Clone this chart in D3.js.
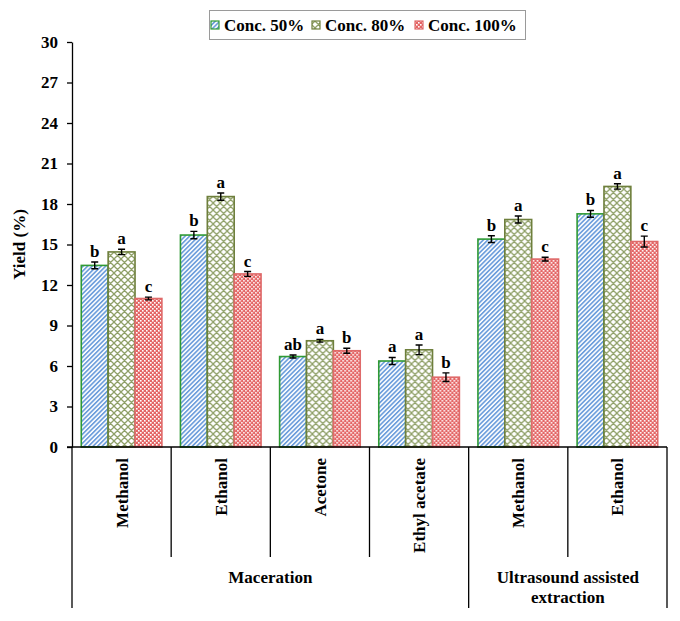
<!DOCTYPE html>
<html>
<head>
<meta charset="utf-8">
<script src="https://cdn.jsdelivr.net/npm/d3@7"></script>
<style>
  html, body { margin: 0; padding: 0; background: #fff; }
  svg text { font-family: "Liberation Serif", "Times New Roman", Times, "DejaVu Serif", "Noto Serif", serif !important; font-weight: bold; fill: #000; }
</style>
</head>
<body>
<svg id="chart" width="680" height="621"></svg>
<script>
// ---- data ----
const categories = ["Methanol", "Ethanol", "Acetone", "Ethyl acetate", "Methanol", "Ethanol"];
const methods = ["Maceration", "Ultrasound assisted extraction"];
const methodSpans = [4, 2];
const seriesNames = ["Conc. 50%", "Conc. 80%", "Conc. 100%"];
const conc50 = [13.45, 15.7, 6.7, 6.37, 15.4, 17.27];
const conc80 = [14.45, 18.55, 7.87, 7.2, 16.85, 19.3];
const conc100 = [11.0, 12.82, 7.13, 5.17, 13.92, 15.22];
const err50 = [0.25, 0.27, 0.11, 0.26, 0.25, 0.25];
const err80 = [0.2, 0.27, 0.1, 0.36, 0.26, 0.2];
const err100 = [0.1, 0.18, 0.18, 0.32, 0.14, 0.4];
const letters50 = ["b", "b", "ab", "a", "b", "b"];
const letters80 = ["a", "a", "a", "a", "a", "a"];
const letters100 = ["c", "c", "b", "b", "c", "c"];
const yTicks = [0, 3, 6, 9, 12, 15, 18, 21, 24, 27, 30];
const yTitle = "Yield (%)";

const series = [
  { name: seriesNames[0], values: conc50, errs: err50, letters: letters50, pat: "p50", stroke: "#2f9a34" },
  { name: seriesNames[1], values: conc80, errs: err80, letters: letters80, pat: "p80", stroke: "#6e7f3c" },
  { name: seriesNames[2], values: conc100, errs: err100, letters: letters100, pat: "p100", stroke: "#df6a6a" }
];

const FONT = "'Liberation Serif', 'Times New Roman', Times, 'DejaVu Serif', serif";
const svg = d3.select("#chart");
const plotLeft = 72, plotRight = 667, plotTop = 42, plotBase = 447;

// ---- patterns ----
const defs = svg.append("defs");
const p50 = defs.append("pattern").attr("id", "p50").attr("patternUnits", "userSpaceOnUse")
  .attr("width", 3.2).attr("height", 3.2).attr("patternTransform", "rotate(45)");
p50.append("rect").attr("width", 3.2).attr("height", 3.2).attr("fill", "#ffffff");
p50.append("rect").attr("width", 1.7).attr("height", 3.2).attr("fill", "#6f9fdc");

const p80 = defs.append("pattern").attr("id", "p80").attr("patternUnits", "userSpaceOnUse")
  .attr("width", 7).attr("height", 7);
p80.append("rect").attr("width", 7).attr("height", 7).attr("fill", "#ffffff");
p80.append("path").attr("d", "M0,7 L7,0 M-1,1 L1,-1 M6,8 L8,6 M0,0 L7,7 M-1,6 L1,8 M6,-1 L8,1")
  .attr("stroke", "#8fa068").attr("stroke-width", 1.3).attr("fill", "none");

const p100 = defs.append("pattern").attr("id", "p100").attr("patternUnits", "userSpaceOnUse")
  .attr("width", 4).attr("height", 4);
p100.append("rect").attr("width", 4).attr("height", 4).attr("fill", "#e46565");
p100.append("rect").attr("x", 0).attr("y", 0).attr("width", 1.6).attr("height", 1.6).attr("fill", "#ffffff");
p100.append("rect").attr("x", 2).attr("y", 2).attr("width", 1.6).attr("height", 1.6).attr("fill", "#ffffff");

// ---- scales ----
const x0 = d3.scaleBand().domain(d3.range(categories.length)).range([plotLeft, plotRight]).padding(0);
const x1 = d3.scaleBand().domain(d3.range(series.length)).range([0, x0.bandwidth()])
  .paddingInner(0).paddingOuter(0.345);
const y = d3.scaleLinear().domain([0, 30]).range([plotBase, plotTop]);

// ---- y axis ----
const yAxis = svg.append("g").attr("transform", `translate(${plotLeft},0)`)
  .call(d3.axisLeft(y).tickValues(yTicks).tickSize(5).tickSizeOuter(0).tickPadding(9).tickFormat(d3.format("d")));
yAxis.attr("font-family", FONT).attr("font-size", 17);
yAxis.select(".domain").attr("stroke", "#000").attr("stroke-width", 1.3);
yAxis.selectAll(".tick line").attr("stroke", "#000").attr("stroke-width", 1.3);
yAxis.selectAll(".tick text").attr("font-family", FONT).style("font-size", "17px")
  .style("font-weight", "bold").attr("fill", "#000");

svg.append("text").attr("transform", `translate(19,${(plotTop + plotBase) / 2}) rotate(-90)`)
  .attr("text-anchor", "middle").attr("dy", "0.35em").attr("font-family", FONT).style("font-size", "17px").text(yTitle);

// ---- bars ----
const groups = svg.append("g").selectAll("g").data(categories).join("g")
  .attr("transform", (d, i) => `translate(${x0(i)},0)`);

series.forEach((s, si) => {
  groups.append("rect")
    .attr("x", x1(si)).attr("width", x1.bandwidth())
    .attr("y", (d, i) => y(s.values[i])).attr("height", (d, i) => plotBase - y(s.values[i]))
    .attr("fill", `url(#${s.pat})`).attr("stroke", s.stroke).attr("stroke-width", 1.6);
  const cx = x1(si) + x1.bandwidth() / 2;
  groups.append("path")
    .attr("d", (d, i) => {
      const hi = y(s.values[i] + s.errs[i]), lo = y(s.values[i] - s.errs[i]);
      return `M${cx},${hi}L${cx},${lo}M${cx - 3.5},${hi}L${cx + 3.5},${hi}M${cx - 3.5},${lo}L${cx + 3.5},${lo}`;
    })
    .attr("stroke", "#000").attr("stroke-width", 1.4).attr("fill", "none");
  groups.append("text")
    .attr("x", cx).attr("y", (d, i) => y(s.values[i] + s.errs[i]) - 5)
    .attr("text-anchor", "middle").attr("font-family", FONT).style("font-size", "17px")
    .text((d, i) => s.letters[i]);
});

// ---- x axis line ----
svg.append("line").attr("x1", plotLeft - 5).attr("x2", plotRight).attr("y1", plotBase).attr("y2", plotBase)
  .attr("stroke", "#000").attr("stroke-width", 1.3);

// ---- category separators ----
const methodBounds = [0];
methodSpans.forEach(n => methodBounds.push(methodBounds[methodBounds.length - 1] + n));
for (let i = 0; i <= categories.length; i++) {
  const xp = i < categories.length ? x0(i) : plotRight;
  const isMethod = methodBounds.includes(i);
  svg.append("line").attr("x1", xp).attr("x2", xp).attr("y1", plotBase).attr("y2", isMethod ? 608 : 557)
    .attr("stroke", "#000").attr("stroke-width", 1.3);
}

// ---- inner category labels ----
categories.forEach((c, i) => {
  svg.append("text")
    .attr("transform", `translate(${x0(i) + x0.bandwidth() / 2},458) rotate(-90)`)
    .attr("text-anchor", "end").attr("dy", "0.35em").attr("font-family", FONT).style("font-size", "17px").text(c);
});

// ---- method labels ----
methods.forEach((m, k) => {
  const a = methodBounds[k], b = methodBounds[k + 1];
  const xa = x0(a), xb = b < categories.length ? x0(b) : plotRight;
  const cx = (xa + xb) / 2;
  const lines = m === "Ultrasound assisted extraction" ? ["Ultrasound assisted", "extraction"] : [m];
  lines.forEach((ln, li) => {
    svg.append("text").attr("x", cx).attr("y", 583 + li * 20).attr("text-anchor", "middle")
      .attr("font-family", FONT).style("font-size", "17px").text(ln);
  });
});

// ---- legend ----
const lg = svg.append("g");
lg.append("rect").attr("x", 209.5).attr("y", 10.5).attr("width", 316).attr("height", 29)
  .attr("fill", "#fff").attr("stroke", "#9a9a9a").attr("stroke-width", 1);
const legX = [211, 312, 415];
series.forEach((s, si) => {
  lg.append("rect").attr("x", legX[si]).attr("y", 21).attr("width", 8).attr("height", 8)
    .attr("fill", `url(#${s.pat})`).attr("stroke", s.stroke).attr("stroke-width", 1.2);
  lg.append("text").attr("x", legX[si] + 13).attr("y", 31).attr("font-family", FONT)
    .style("font-size", "17px").text(s.name);
});
</script>
</body>
</html>
